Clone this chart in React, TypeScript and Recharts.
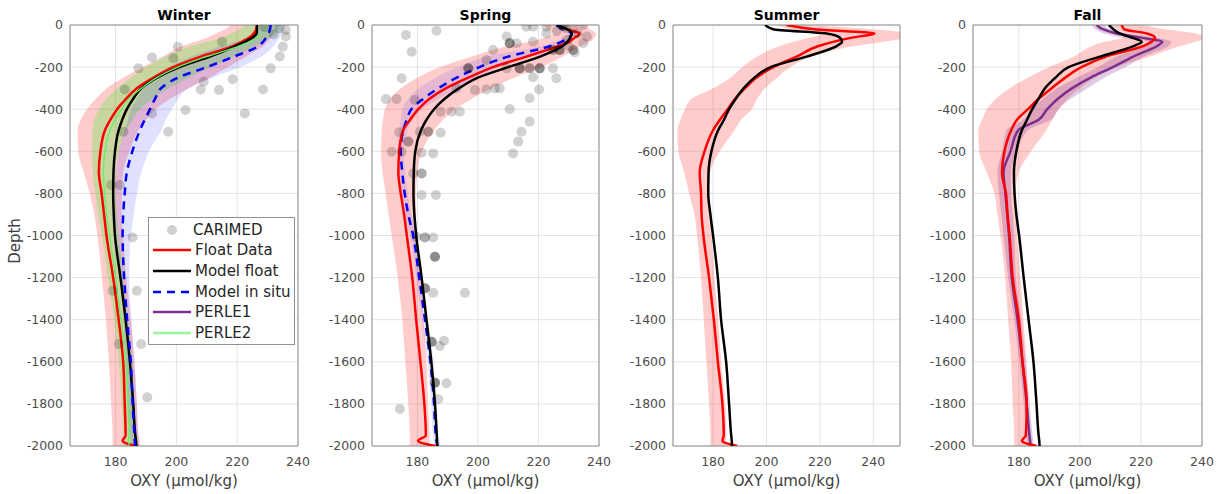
import { Area, CartesianGrid, ComposedChart, Line, ReferenceArea, Scatter, XAxis, YAxis } from "recharts";

const FONT = '"DejaVu Sans", "Liberation Sans", sans-serif';

// depth levels shared by every profile (m, negative downwards)
const DEPTH = [0, -20, -40, -60, -80, -100, -150, -200, -250, -300, -350, -400, -450, -500, -600, -700, -800, -900, -1000, -1200, -1400, -1600, -1800, -1950, -1975, -2000];
const X_TICKS = [180, 200, 220, 240];
const Y_TICKS = [0, -200, -400, -600, -800, -1000, -1200, -1400, -1600, -1800, -2000];

// ---- Winter
const winterFloat = [226.5, 226.3, 225.5, 224, 221.5, 218.5, 208, 199, 192.5, 187, 183.5, 180.5, 178.3, 176.5, 175, 174.5, 175.4, 176.2, 177, 179.2, 181, 182.5, 183, 183.3, 182.3, 186.5];
const winterModel = [226.5, 226.5, 226.4, 225, 222.5, 219.5, 211, 201, 193.6, 188.5, 185.8, 183.7, 182.2, 181, 179.8, 179.3, 179.2, 179.4, 179.8, 181.6, 183.3, 184.7, 185.8, 186.5, 186.7, 186.9];
const winterInSitu = [231, 230.8, 230.3, 229.5, 228.5, 227, 219, 210, 200.5, 195, 193, 191.3, 189.6, 188, 185.5, 183.7, 183, 182.5, 182.3, 182.8, 183.8, 185, 185.6, 186.2, 186.3, 186.4];
const winterPerle2 = [229.5, 229, 228, 226.5, 224, 220.5, 210, 200.5, 193.5, 188.5, 184.5, 182, 179.8, 178.2, 176.5, 176, 176.4, 177, 178, 180, 181.8, 183.4, 184.1, 184.4, 184.2, 184.5];
const winterFloatBand = [[218, 233.5], [216, 233], [213, 232], [210, 231], [206, 230], [202, 228.5], [195.5, 223], [189, 217], [182.5, 211], [177, 204], [173.5, 198], [170.5, 193], [168.5, 190], [167.5, 187.5], [167.7, 184.5], [169.5, 182.5], [171.5, 182], [173, 182], [174, 182.5], [175.5, 183.5], [176.8, 185], [177.8, 186.2], [178.5, 187], [179, 187.5], [179, 188], [179, 188]];
const winterPerle2Band = [[223, 234.5], [221, 234], [218, 233], [215, 231], [210, 229], [205, 226], [196.5, 219], [190, 211.5], [185, 204], [180.5, 197.5], [177, 192], [174.5, 188], [173, 185.5], [172.5, 183.5], [172.3, 181], [172.5, 180], [173.3, 180], [174.3, 180.3], [175.5, 181], [177.5, 182.5], [179.5, 184], [181, 185.5], [182, 186.2], [182.5, 186.5], [182.5, 186.5], [182.5, 186.5]];
const winterInSituBand = [[227, 235], [226.5, 234.8], [225.5, 234.5], [223.5, 234], [220, 233], [215, 232], [205, 228], [197.5, 221], [192, 212], [189, 204], [187, 200.5], [185, 198.5], [184, 196.5], [183, 195], [181, 191], [180.2, 188.5], [180, 187], [180, 186], [180.5, 185], [181.5, 184.5], [182.5, 185.2], [183.5, 186.2], [184.2, 187], [184.8, 187.5], [185, 187.6], [185, 187.8]];
const winterCarimed = [[234, -16], [236, -24], [236, -55], [235, -103], [234, -150], [231, -206], [228.5, -306], [222.5, -420], [218.5, -258], [214, -309], [208, -306], [209, -269], [203, -404], [215, -79], [192, -154], [187.5, -206], [183, -306], [200.5, -103], [199, -158], [197.3, -507], [192, -420], [182.6, -507], [181.4, -760], [178.5, -760], [185.6, -1009], [187, -1262], [179, -1262], [188.4, -1516], [181, -1516], [190.4, -1769], [232, -45], [229, -10]];

// ---- Spring
const springFloat = [227, 229, 233.6, 232, 230, 226.5, 216, 205, 196.8, 189.5, 184, 180.3, 177.6, 175.3, 174, 173.7, 174.5, 175.6, 176.5, 178.3, 179.6, 181, 182.3, 182.8, 180.2, 186];
const springModel = [226, 229.5, 231, 230.5, 229.5, 228, 220.5, 210, 200, 193.8, 189, 185.5, 183, 181.2, 179.3, 178.8, 178.7, 179, 179.6, 181.4, 183, 184.6, 185.8, 186.4, 186.5, 186.6];
const springInSitu = [226, 228, 231, 230, 227.5, 224, 210, 200.5, 193, 187, 182, 178, 176.5, 175.3, 174.5, 175, 175.8, 177, 178.6, 180.6, 182.5, 184.3, 185.5, 186.1, 186.3, 186.6];
const springFloatBand = [[222, 235], [223, 237], [225, 239], [222, 238.5], [217, 237], [210, 234], [198, 228], [187.5, 221], [180, 212], [174.5, 204.5], [171, 198], [169.3, 192.5], [168.6, 188.5], [168.2, 185.5], [168, 181.5], [168.5, 180], [169.5, 179.5], [170.5, 179.5], [171.5, 180], [173.5, 181], [175, 182], [176, 183], [177, 183.5], [177.5, 184], [177.5, 184], [177.5, 184]];
const springInSituBand = [[225, 227.5], [226.5, 229.5], [229.5, 232.5], [228.5, 231.5], [225.5, 229.5], [221, 227], [203, 215], [193.5, 207], [186, 199.5], [180.5, 193], [177, 187], [175, 181.5], [174.5, 178.5], [174, 176.8], [173.5, 175.5], [174, 176], [174.8, 176.8], [176, 178], [177.6, 179.6], [179.6, 181.6], [181.5, 183.5], [183.3, 185.3], [184.5, 186.5], [185.1, 187.1], [185.3, 187.3], [185.6, 187.6]];
const springCarimed = [[176.2, -47], [186.3, -27], [178.1, -127], [174.8, -253], [169.6, -352], [173.1, -352], [179.2, -356], [187.7, -412], [191.3, -412], [194, -412], [174, -510], [180.8, -507], [183.6, -507], [183.6, -507], [187.7, -512], [171.5, -602], [174.8, -602], [181.4, -607], [185.2, -610], [177, -554], [177, -554], [181.4, -705], [181.4, -705], [178.6, -705], [181.4, -808], [186.1, -808], [179.7, -1006], [182.5, -1009], [182.5, -1009], [185.2, -1009], [210.5, -399], [217.1, -348], [217.1, -459], [214.4, -507], [213.3, -554], [211.6, -610], [220.2, -306], [225.9, -253], [218.2, -248], [207.2, -301], [205.6, -301], [202.8, -306], [199, -309], [192.9, -301], [209.5, -206], [213.8, -206], [213.8, -206], [213.8, -206], [217.1, -206], [217.1, -206], [220.4, -206], [220.4, -206], [220.4, -206], [224.8, -206], [210.5, -87], [210.5, -87], [210.5, -87], [212.8, -87], [218.2, -79], [224.8, -119], [224.8, -119], [227, -119], [227, -119], [227, -119], [231.5, -119], [231.5, -119], [229.3, -71], [234.8, -87], [236, -55], [234.8, 0], [231.5, -8], [218.2, -8], [216, -8], [222.6, -8], [209.5, -55], [205, -119], [222.6, -40], [202.8, -166], [196.8, -206], [196.8, -206], [196.8, -206], [185.8, -1101], [185.8, -1101], [185.8, -1101], [182.5, -1251], [182.5, -1251], [182.5, -1251], [185.2, -1272], [195.7, -1272], [184.7, -1505], [184.7, -1505], [184.7, -1505], [188.8, -1500], [187.4, -1525], [185.8, -1699], [185.8, -1699], [185.8, -1699], [189.6, -1702], [186.9, -1778], [174.2, -1824], [228, -5], [228, -5], [229, -15], [226, -30], [233, -40], [230, -100], [232, -130]];

// ---- Summer
const summerFloat = [207.5, 218, 240.5, 232, 225, 219.5, 211.3, 202.5, 196.3, 192, 188.3, 185.5, 182.6, 180, 176.8, 175, 175.5, 175.7, 176.4, 178.5, 180.3, 181.8, 183.5, 184, 183.5, 189];
const summerModel = [199.5, 202.5, 222.5, 227.5, 228.3, 226.3, 215, 201.5, 195.5, 191.5, 188.5, 186, 184.1, 181.9, 179.4, 178.3, 178.2, 179, 180, 181.8, 183, 184.9, 186, 186.8, 187, 187.1];
const summerFloatBand = [[203, 214], [210, 240], [222, 252], [216, 252], [210, 244], [205, 233], [196.5, 217], [191, 209], [186.5, 204], [180, 199.5], [172, 196.5], [169.5, 194.5], [167.8, 190.5], [166.6, 188], [167, 182.5], [169.2, 179], [171, 178.5], [173, 179], [174, 179.5], [175.5, 180.5], [176.5, 182], [177.5, 183], [178.5, 184.5], [179, 185], [179, 185], [179, 185]];

// ---- Fall
const fallFloat = [213.7, 214.5, 221.9, 224.6, 223.5, 220.7, 208.5, 200.5, 195.2, 190.8, 186.5, 183, 179.4, 177.5, 175.3, 174.5, 175.8, 176.3, 177, 178, 180, 181.2, 182.6, 182.3, 181, 185.8];
const fallModel = [209.5, 211, 213.1, 217, 220.3, 217.6, 206.6, 196.3, 192, 188.6, 186.5, 184.4, 182.7, 181, 179.2, 178.4, 178.6, 179.2, 180.1, 181.6, 183.2, 184.8, 185.8, 186.5, 186.7, 186.8];
const fallPerle1 = [205.5, 207.5, 212, 220, 227, 225.3, 217.5, 210.8, 203.5, 197.5, 192.8, 189.3, 186.5, 179.8, 177.3, 175, 175.6, 176.2, 176.8, 177.7, 179.6, 181.2, 182.6, 183.5, 183.7, 183.9];
const fallFloatBand = [[210, 220], [212, 228], [214, 238], [214, 241], [208, 238], [204, 233], [198, 223], [190, 212], [183, 205], [177, 200], [172.5, 196], [169.5, 193], [168, 191], [166.7, 189], [167, 184], [169.5, 180], [172, 179], [173, 179.2], [174, 179.5], [175.5, 180.5], [176.5, 181.5], [177.5, 182.5], [178, 183], [178.5, 183.5], [178.5, 183.5], [178.5, 183.5]];
const fallPerle1Band = [[204, 208], [205, 210], [208, 215], [214, 225], [223, 230], [221, 229], [212, 221], [206, 215], [199, 208], [192.5, 202.5], [188, 197], [184, 193], [181.5, 190.5], [176, 183], [174.5, 179.5], [173, 177.5], [173.5, 177.5], [174.3, 178], [175, 178.5], [176.5, 179], [178.5, 180.8], [180.2, 182.2], [181.6, 183.6], [182.5, 184.5], [182.7, 184.7], [182.9, 184.9]];

const RED = "#ff0000";
const BLACK = "#000000";
const BLUE = "#0000ff";
const PURPLE = "#7e2f8e";
const GREEN = "#66ee66";
const BAND_GREEN = "#00ff00";

type LineDef = { key: string; values: number[]; color: string; width: number; dash?: string };
type BandDef = { key: string; values: number[][]; color: string; opacity: number };
type PanelDef = { title: string; left: number; width: number; xMax: number; lines: LineDef[]; bands: BandDef[]; dots: number[][] };

const PANELS: PanelDef[] = [
  {
    title: "Winter", left: 70, width: 228, xMax: 240,
    bands: [
      { key: "floatBand", values: winterFloatBand, color: RED, opacity: 0.2 },
      { key: "perleBand", values: winterPerle2Band, color: BAND_GREEN, opacity: 0.22 },
      { key: "inSituBand", values: winterInSituBand, color: BLUE, opacity: 0.12 },
    ],
    lines: [
      { key: "float", values: winterFloat, color: RED, width: 2.5 },
      { key: "model", values: winterModel, color: BLACK, width: 2.5 },
      { key: "inSitu", values: winterInSitu, color: BLUE, width: 2.5, dash: "8 6" },
      { key: "perle", values: winterPerle2, color: GREEN, width: 1.3 },
    ],
    dots: winterCarimed,
  },
  {
    title: "Spring", left: 372, width: 227, xMax: 240,
    bands: [
      { key: "floatBand", values: springFloatBand, color: RED, opacity: 0.2 },
      { key: "inSituBand", values: springInSituBand, color: BLUE, opacity: 0.1 },
    ],
    lines: [
      { key: "inSitu", values: springInSitu, color: BLUE, width: 2.5, dash: "8 6" },
      { key: "float", values: springFloat, color: RED, width: 2.5 },
      { key: "model", values: springModel, color: BLACK, width: 2.5 },
    ],
    dots: springCarimed,
  },
  {
    title: "Summer", left: 673, width: 227, xMax: 250,
    bands: [{ key: "floatBand", values: summerFloatBand, color: RED, opacity: 0.2 }],
    lines: [
      { key: "float", values: summerFloat, color: RED, width: 2.5 },
      { key: "model", values: summerModel, color: BLACK, width: 2.5 },
    ],
    dots: [],
  },
  {
    title: "Fall", left: 973, width: 229, xMax: 240,
    bands: [
      { key: "floatBand", values: fallFloatBand, color: RED, opacity: 0.2 },
      { key: "perleBand", values: fallPerle1Band, color: PURPLE, opacity: 0.25 },
    ],
    lines: [
      { key: "perle", values: fallPerle1, color: PURPLE, width: 2.5 },
      { key: "float", values: fallFloat, color: RED, width: 2.5 },
      { key: "model", values: fallModel, color: BLACK, width: 2.5 },
    ],
    dots: [],
  },
];

const LEGEND_ITEMS = [
  { name: "CARIMED", kind: "dot", color: BLACK },
  { name: "Float Data", kind: "line", color: RED },
  { name: "Model float", kind: "line", color: BLACK },
  { name: "Model in situ", kind: "dash", color: BLUE },
  { name: "PERLE1", kind: "line", color: PURPLE },
  { name: "PERLE2", kind: "line", color: "#99f599" },
];

const Y_AXIS_W = 62;
const RIGHT_PAD = 16;
const tickStyle = { fontSize: 12.5, fill: "#4d4d4d", fontFamily: FONT };

function Dot(props: any) {
  return <circle cx={props.cx} cy={props.cy} r={5} fill="#000" fillOpacity={0.18} />;
}

function Panel({ p }: { p: PanelDef }) {
  const rows = DEPTH.map((depth, i) => {
    const row: Record<string, any> = { depth };
    p.lines.forEach((l) => (row[l.key] = l.values[i]));
    p.bands.forEach((b) => (row[b.key] = b.values[i]));
    return row;
  });
  const dots = p.dots.map(([oxy, depth]) => ({ oxy, depth }));

  return (
    <div style={{ position: "absolute", left: p.left - Y_AXIS_W, top: 0 }}>
      <ComposedChart
        layout="vertical"
        width={Y_AXIS_W + p.width + RIGHT_PAD}
        height={494}
        data={rows}
        margin={{ top: 25, right: RIGHT_PAD, bottom: 18, left: 0 }}
      >
        <CartesianGrid stroke="#e4e4e4" />
        <XAxis
          type="number"
          domain={[165, p.xMax]}
          ticks={X_TICKS}
          allowDataOverflow
          axisLine={false}
          tickLine={false}
          tickSize={0}
          tickMargin={11}
          height={30}
          tick={tickStyle}
        />
        <YAxis
          type="number"
          dataKey="depth"
          domain={[-2000, 0]}
          ticks={Y_TICKS}
          reversed
          allowDataOverflow
          axisLine={false}
          tickLine={false}
          tickSize={0}
          tickMargin={7}
          width={Y_AXIS_W}
          tick={tickStyle}
        />
        {p.bands.map((b) => (
          <Area
            key={b.key}
            dataKey={b.key}
            type="monotone"
            stroke="none"
            fill={b.color}
            fillOpacity={b.opacity}
            isAnimationActive={false}
            activeDot={false}
          />
        ))}
        {dots.length > 0 && (
          <Scatter data={dots} dataKey="oxy" shape={Dot} isAnimationActive={false} />
        )}
        {p.lines.map((l) => (
          <Line
            key={l.key}
            dataKey={l.key}
            type="monotone"
            stroke={l.color}
            strokeWidth={l.width}
            strokeDasharray={l.dash}
            dot={false}
            activeDot={false}
            isAnimationActive={false}
          />
        ))}
        <ReferenceArea
          x1={165}
          x2={p.xMax}
          y1={-2000}
          y2={0}
          fill="none"
          stroke="#8f8f8f"
          strokeWidth={1}
          ifOverflow="visible"
        />
      </ComposedChart>
    </div>
  );
}

function LegendBox() {
  return (
    <div
      style={{
        position: "absolute", left: 148, top: 217, width: 147, height: 128,
        background: "#fff", border: "1px solid #8f8f8f", boxSizing: "border-box",
        fontSize: 15, color: "#262626",
      }}
    >
      {LEGEND_ITEMS.map((item, i) => (
        <div
          key={item.name}
          style={{ position: "absolute", left: 0, top: 1.5 + i * 20.7, height: 20, display: "flex", alignItems: "center", whiteSpace: "nowrap" }}
        >
          <svg width={item.kind === "dot" ? 44 : 46} height={20} style={{ display: "block" }}>
            {item.kind === "dot" && <circle cx={23} cy={10} r={5} fill="#000" fillOpacity={0.18} />}
            {item.kind === "line" && <line x1={4} x2={42} y1={10} y2={10} stroke={item.color} strokeWidth={2.5} />}
            {item.kind === "dash" && <line x1={4} x2={42} y1={10} y2={10} stroke={item.color} strokeWidth={2.5} strokeDasharray="8 6" />}
          </svg>
          <span>{item.name}</span>
        </div>
      ))}
    </div>
  );
}

export default function App() {
  return (
    <div style={{ position: "absolute", left: 0, top: 0, width: 1223, height: 494, background: "#fff", fontFamily: FONT, overflow: "hidden" }}>
      {PANELS.map((p) => (
        <div key={p.title}>
          <Panel p={p} />
          <div style={{ position: "absolute", left: p.left, width: p.width, top: 7, textAlign: "center", fontSize: 14, lineHeight: "16px", fontWeight: "bold", color: "#000" }}>
            {p.title}
          </div>
          <div style={{ position: "absolute", left: p.left, width: p.width, top: 471, textAlign: "center", fontSize: 15, lineHeight: "20px", color: "#404040" }}>
            OXY (µmol/kg)
          </div>
        </div>
      ))}
      <div style={{ position: "absolute", left: 15, top: 241, transform: "translate(-50%, -50%) rotate(-90deg)", fontSize: 15, color: "#404040", whiteSpace: "nowrap" }}>
        Depth
      </div>
      <LegendBox />
    </div>
  );
}
